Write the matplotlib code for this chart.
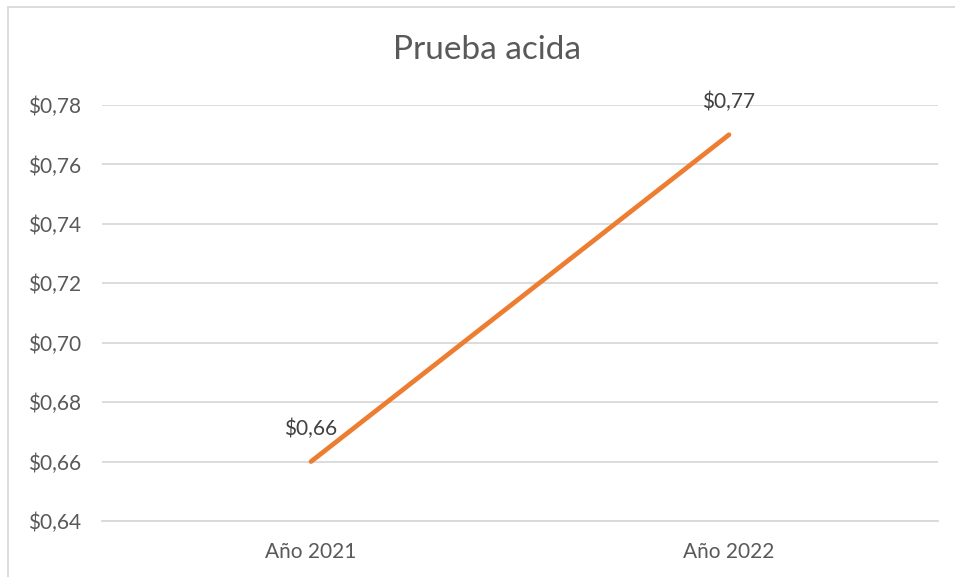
import matplotlib
matplotlib.use('Agg')
import matplotlib.pyplot as plt
from matplotlib.patches import Rectangle

# data
years = ["Año 2021", "Año 2022"]
values = [0.66, 0.77]
labels = ["$0,66", "$0,77"]
y_ticks = [0.64, 0.66, 0.68, 0.70, 0.72, 0.74, 0.76, 0.78]

text_col = '#595959'
grid_col = '#D9D9D9'
orange = '#ED7D31'
plt.rcParams['font.family'] = ['Lato', 'DejaVu Sans']

W, H = 955, 577
fig = plt.figure(figsize=(W / 100, H / 100), dpi=100)
ax = fig.add_axes([102 / W, 1 - 521 / H, (938 - 102) / W, (521 - 105) / H])

x = list(range(len(years)))
ax.plot(x, values, color=orange, linewidth=3.4, solid_capstyle='round', zorder=3)
for xi, v, lab in zip(x, values, labels):
    ax.annotate(lab, (xi, v), xytext=(0, 16), textcoords='offset points',
                ha='center', va='bottom', fontsize=15, color='#404040')

ax.set_xlim(-0.5, 1.5)
ax.set_ylim(0.64, 0.78)
ax.set_yticks(y_ticks)
ax.set_yticklabels([f"${t:.2f}".replace('.', ',') for t in y_ticks])
ax.set_xticks(x)
ax.set_xticklabels(years)
ax.tick_params(length=0, labelsize=15, labelcolor=text_col)
ax.tick_params(axis='x', pad=15)
ax.tick_params(axis='y', pad=15)
ax.grid(axis='y', color=grid_col, linewidth=1.3)
ax.set_axisbelow(True)
for s in ['top', 'right', 'left']:
    ax.spines[s].set_visible(False)
ax.spines['bottom'].set_color(grid_col)
ax.spines['bottom'].set_linewidth(1.3)

fig.text(487 / W, 1 - 50 / H, "Prueba acida", ha='center', va='center',
         fontsize=24, color=text_col)

# outer chart border (cut off at right/bottom)
fig.patches.append(Rectangle((7.5 / W, -0.05), 1.0, 1 - 6.5 / H + 0.05,
                             transform=fig.transFigure, fill=False,
                             edgecolor=grid_col, linewidth=1.3))

fig.savefig("out.png", dpi=100)
